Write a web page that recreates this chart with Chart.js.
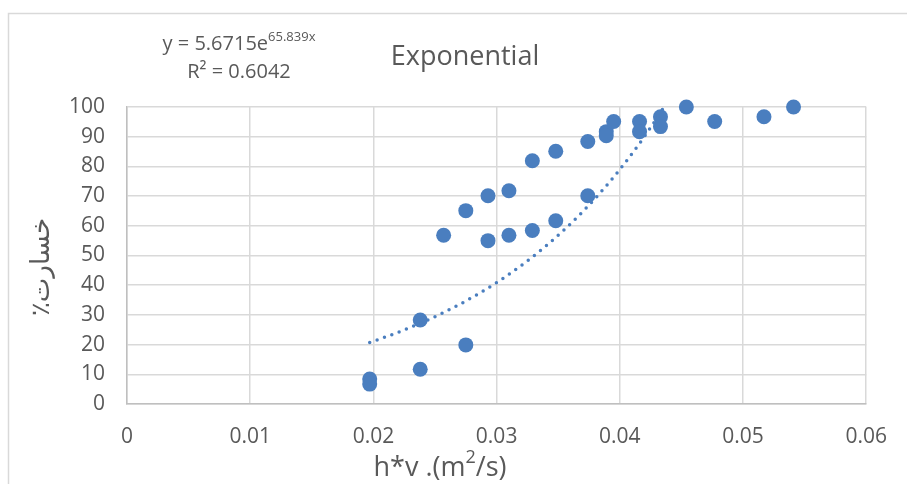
<!DOCTYPE html>
<html>
<head>
<meta charset="utf-8">
<script src="https://cdn.jsdelivr.net/npm/chart.js@4/dist/chart.umd.min.js"></script>
<style>
  html, body { margin: 0; padding: 0; background: #fff; overflow: hidden; }
  #wrap { position: absolute; left: 0; top: 0; width: 907px; height: 484px; }
</style>
</head>
<body>
<div id="wrap"><canvas id="c" width="907" height="484"></canvas></div>
<script>
// Measured loss (%) against h*v (m²/s)
const hv = [
  0.0197, 0.0197, 0.0238, 0.0238, 0.0257, 0.0275, 0.0275, 0.0293, 0.0293, 0.0310,
  0.0310, 0.0329, 0.0329, 0.0348, 0.0348, 0.0374, 0.0374, 0.0389, 0.0389, 0.0395,
  0.0416, 0.0416, 0.0433, 0.0433, 0.0454, 0.0477, 0.0517, 0.0541
];
const loss = [
  8.4, 6.7, 28.3, 11.7, 56.8, 65.1, 19.9, 70.1, 55.0, 71.8,
  56.8, 81.9, 58.4, 85.1, 61.7, 88.4, 70.1, 91.7, 90.3, 95.1,
  95.1, 91.7, 96.7, 93.4, 100, 95.1, 96.7, 100
];

// Exponential fit y = a·e^(b·x), as printed on the chart
const fitA = 5.6715;
const fitB = 65.839;
const fitR2 = '0.6042';

const xTickLabels = ['0', '0.01', '0.02', '0.03', '0.04', '0.05', '0.06'];
const yTickLabels = ['0', '10', '20', '30', '40', '50', '60', '70', '80', '90', '100'];

const chartTitle = 'Exponential';
const xTitle = ['h*v .(m', '2', '/s)'];
const yTitle = 'خسارت٪';

const BLUE = '#4a7ebf';
const TEXT = '#595959';
const FONT = '"Open Sans", "DejaVu Sans", sans-serif';

const points = hv.map((x, i) => ({ x: x, y: loss[i] }));

// trendline evaluated over the measured x range
const xMin = Math.min(...hv), xMax = Math.max(...hv);
const fit = [];
const n = 300;
for (let i = 0; i <= n; i++) {
  const x = xMin + (xMax - xMin) * i / n;
  fit.push({ x: x, y: fitA * Math.exp(fitB * x) });
}

// frame, titles, equation label
const decorations = {
  id: 'decorations',
  beforeDraw(chart) {
    const ctx = chart.ctx;
    ctx.save();
    ctx.fillStyle = '#fff';
    ctx.fillRect(0, 0, chart.width, chart.height);
    ctx.strokeStyle = '#d9d9d9';
    ctx.lineWidth = 1.5;
    ctx.strokeRect(8.5, 13.5, 1000, 1000);
    ctx.restore();
  },
  afterDraw(chart) {
    const ctx = chart.ctx;
    ctx.save();
    ctx.fillStyle = TEXT;
    ctx.textBaseline = 'alphabetic';

    // chart title
    ctx.font = '27px ' + FONT;
    ctx.textAlign = 'center';
    ctx.fillText(chartTitle, 465, 65);

    // equation, with raised exponent
    const base = 'y = ' + fitA + 'e';
    const expo = fitB + 'x';
    ctx.font = '20px ' + FONT;
    const wBase = ctx.measureText(base).width;
    ctx.font = '13px ' + FONT;
    const wExp = ctx.measureText(expo).width;
    let x0 = 239 - (wBase + wExp) / 2;
    ctx.textAlign = 'left';
    ctx.font = '20px ' + FONT;
    ctx.fillText(base, x0, 50);
    ctx.font = '13px ' + FONT;
    ctx.fillText(expo, x0 + wBase, 41);
    ctx.font = '20px ' + FONT;
    ctx.textAlign = 'center';
    ctx.fillText('R² = ' + fitR2, 239, 78);

    // x axis title with superscript
    ctx.textAlign = 'left';
    ctx.font = '27px ' + FONT;
    const w1 = ctx.measureText(xTitle[0]).width;
    const w3 = ctx.measureText(xTitle[2]).width;
    ctx.font = '18px ' + FONT;
    const w2 = ctx.measureText(xTitle[1]).width;
    let tx = 440 - (w1 + w2 + w3) / 2;
    ctx.font = '27px ' + FONT;
    ctx.fillText(xTitle[0], tx, 476);
    ctx.font = '18px ' + FONT;
    ctx.fillText(xTitle[1], tx + w1, 463);
    ctx.font = '27px ' + FONT;
    ctx.fillText(xTitle[2], tx + w1 + w2, 476);

    // y axis title, rotated, right-to-left
    ctx.translate(42, 267);
    ctx.rotate(-Math.PI / 2);
    ctx.direction = 'rtl';
    ctx.textAlign = 'center';
    ctx.textBaseline = 'middle';
    ctx.font = '26px ' + FONT;
    ctx.fillText(yTitle, 0, 0);
    ctx.restore();
  }
};

new Chart(document.getElementById('c'), {
  type: 'scatter',
  data: {
    datasets: [
      {
        label: 'loss',
        data: points,
        backgroundColor: BLUE,
        borderColor: BLUE,
        borderWidth: 0,
        pointRadius: 7.5,
        pointHoverRadius: 7.5,
        clip: false,
        order: 1
      },
      {
        label: 'fit',
        type: 'line',
        data: fit,
        borderColor: BLUE,
        borderWidth: 3.5,
        borderDash: [0, 7.8],
        borderCapStyle: 'round',
        pointRadius: 0,
        tension: 0,
        fill: false,
        order: 0
      }
    ]
  },
  options: {
    responsive: false,
    animation: false,
    events: [],
    layout: { padding: { left: 0, top: 107, right: 35, bottom: 0 } },
    plugins: { legend: { display: false }, tooltip: { enabled: false }, title: { display: false } },
    scales: {
      x: {
        type: 'linear',
        min: 0, max: 0.06,
        afterFit: s => { s.height = 80; },
        afterBuildTicks: s => { s.ticks = xTickLabels.map((t, i) => ({ value: i * 0.01 })); },
        ticks: {
          callback: (v, i) => xTickLabels[i],
          color: TEXT,
          font: { family: FONT, size: 21 },
          padding: 20,
          maxRotation: 0
        },
        grid: { color: '#d9d9d9', lineWidth: 1.5, drawTicks: false },
        border: { color: '#bfbfbf', width: 1.5 }
      },
      y: {
        min: 0, max: 100,
        afterFit: s => { s.width = 127; },
        afterBuildTicks: s => { s.ticks = yTickLabels.map((t, i) => ({ value: i * 10 })); },
        ticks: {
          callback: (v, i) => yTickLabels[i],
          color: TEXT,
          font: { family: FONT, size: 21 },
          padding: 22
        },
        grid: { color: '#d9d9d9', lineWidth: 1.5, drawTicks: false },
        border: { color: '#bfbfbf', width: 1.5 }
      }
    }
  },
  plugins: [decorations]
});
</script>
</body>
</html>
